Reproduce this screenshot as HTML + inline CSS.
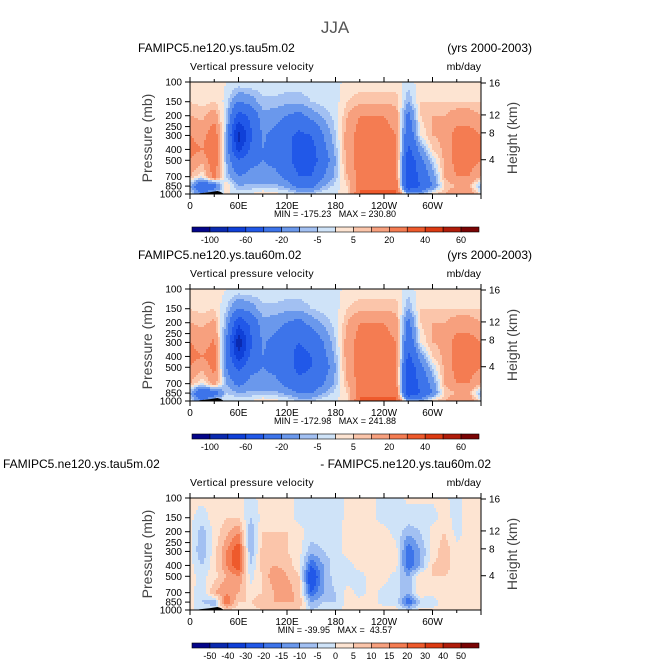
<!DOCTYPE html>
<html><head><meta charset="utf-8"><style>
html,body{margin:0;padding:0;background:#fff}
svg{display:block;font-family:"Liberation Sans",sans-serif}
</style></head><body>
<svg id="fig" width="671" height="672" viewBox="0 0 671 672" xmlns="http://www.w3.org/2000/svg">
<text x="335" y="33" font-size="17" fill="#555" text-anchor="middle">JJA</text>
</svg>
<script>
const lons=[0,15,30,45,60,75,90,105,120,135,150,165,180,195,210,225,240,255,270,285,300,315,330,345,360];
const pres=[100,150,200,300,400,500,700,850,1000];
const levelsA=[-100,-80,-60,-40,-20,-10,-5,0,5,10,20,30,40,50,60];
const labelsA=["-100","-60","-20","-5","5","20","40","60"];
const levelsB=[-50,-40,-30,-20,-15,-10,-5,0,5,10,15,20,30,40,50];
const labelsB=["-50","-40","-30","-20","-15","-10","-5","0","5","10","15","20","30","40","50"];
const colors=["#04058a","#0a2ab0","#0f40d8","#2158e8","#3d74ea","#6a98ec","#a2c0f2","#cfe3f8","#fde4d2","#fbc5aa","#f7a07e","#f47c52","#ee5a2c","#dc3a12","#b01c0a","#7a0404"];
// values per longitude (columns) from 100mb to 1000mb
const field5m=[
[3,5,10,20,25,20,10,-10,0],[3,3,8,15,20,12,0,-40,-20],[3,5,15,30,30,30,25,-30,0],[0,-2,-5,-10,-10,-10,-5,5,0],
[0,-20,-50,-90,-70,-40,-20,-10,0],[0,-15,-35,-45,-35,-25,-15,-8,0],[-2,-6,-12,-18,-20,-20,-15,-8,5],[-2,-6,-15,-25,-25,-25,-15,-8,2],
[-2,-8,-20,-35,-35,-35,-25,-12,0],[-2,-8,-25,-45,-50,-50,-40,-25,-5],[-2,-5,-15,-40,-50,-50,-40,-25,-5],[-2,-3,-8,-20,-25,-30,-20,-10,0],
[-2,-2,-3,-5,-8,-10,-8,-3,0],[2,5,10,15,15,15,10,5,2],[2,8,20,25,25,25,25,28,32],[2,8,20,25,25,25,25,28,32],
[2,8,20,25,25,25,25,28,32],[2,8,15,20,25,25,25,28,32],[-2,-10,-25,-35,-45,-60,-60,-60,-10],[2,5,5,0,-15,-25,-35,-40,-10],
[2,5,10,10,5,-5,-15,-20,5],[2,5,10,12,12,12,10,5,10],[2,5,15,25,25,25,20,10,20],[2,5,15,25,25,25,20,10,20],[3,5,10,20,25,20,10,-10,0]];
const field60m=[
[3,5,10,20,25,20,10,-10,0],[3,3,8,15,20,12,0,-40,-20],[3,5,12,22,25,25,15,-30,0],[0,-5,-10,-20,-20,-20,-10,-5,0],
[0,-20,-55,-95,-75,-45,-25,-10,0],[0,-15,-35,-45,-35,-25,-15,-8,0],[-2,-6,-12,-18,-20,-20,-15,-8,5],[-2,-6,-15,-25,-25,-25,-15,-8,2],
[-2,-8,-20,-35,-35,-35,-25,-12,0],[-2,-8,-25,-40,-45,-45,-35,-20,-5],[-2,-5,-15,-35,-40,-40,-35,-20,-5],[-2,-3,-8,-20,-25,-30,-20,-10,0],
[-2,-2,-3,-5,-8,-10,-8,-3,0],[2,5,10,15,15,15,10,5,2],[2,8,20,25,25,25,25,28,32],[2,8,20,25,28,28,25,28,32],
[2,8,20,25,25,25,25,28,32],[2,8,15,20,25,25,25,28,32],[-2,-10,-25,-35,-45,-60,-60,-60,-10],[2,5,5,0,-15,-25,-35,-40,-10],
[2,5,10,10,5,-5,-15,-20,5],[2,5,10,12,12,12,10,5,10],[2,5,15,25,25,25,20,10,20],[2,5,15,25,25,25,20,10,20],[3,5,10,20,25,20,10,-10,0]];
const fieldDiff=[
[1,1,1,1,2,2,3,2,0],[1,-2,-8,-10,-5,-2,-5,-5,0],[1,2,2,3,3,3,10,-10,0],[2,5,8,15,15,10,15,20,5],
[2,5,15,25,25,15,10,5,2],[-2,-5,-10,-10,-5,-2,2,5,2],[2,2,5,8,8,5,5,10,5],[2,2,5,8,10,15,10,10,5],
[2,2,5,5,8,10,15,10,5],[-2,-2,2,2,2,5,5,10,5],[-2,-2,-2,-8,-20,-30,-20,-10,-5],[-2,-2,-2,-5,-10,-10,-10,-5,-2],
[-2,-2,-2,-2,-2,-2,-5,-5,-2],[1,1,2,2,-2,-2,2,2,2],[1,1,1,2,2,-2,-2,2,2],[1,1,1,2,2,2,2,2,2],
[-2,-2,2,2,2,2,-2,-2,2],[-2,-2,-2,2,2,-2,-2,-2,2],[1,-2,-8,-20,-20,-10,-10,-20,-5],[1,-2,-5,-10,-10,5,5,-5,2],
[1,-2,2,2,5,5,2,-5,2],[1,2,5,8,8,5,5,5,2],[-2,-2,-2,2,2,2,2,2,2],[2,2,2,2,2,2,2,2,2],[1,1,1,1,2,2,3,2,0]];
const topoLon=[8,12,18,24,30,34,38,42];
const topoP=[1000,985,975,965,950,940,960,1000];
const presTicks=[100,150,200,250,300,400,500,700,850,1000];
const kmTicks=[16,12,8,4];
const kmPos=[1,0.715,0.555,0.315];
const lonLabels=["0","60E","120E","180","120W","60W"];
const stats=[["-175.23","230.80"],["-172.98","241.88"],["-39.95"," 43.57"]];

const NS="http://www.w3.org/2000/svg";
const svg=document.getElementById('fig');
const X0=190,W=291,H=112;
function xS(l){return X0+l/360*W;}
function yS(p,top){return top+(Math.log10(p)-2)*H;}
function mk(tag,attrs,parent){const e=document.createElementNS(NS,tag);for(const k in attrs)e.setAttribute(k,attrs[k]);(parent||svg).appendChild(e);return e;}
function colorFor(v,lev){let i=0;while(i<lev.length&&v>=lev[i])i++;return colors[i];}
function sample(f,lon,p){
  let i=Math.min(Math.floor(lon/15),lons.length-2);let tx=(lon-lons[i])/15;
  const lp=Math.log10(p);let j=0;while(j<pres.length-2&&Math.log10(pres[j+1])<lp)j++;
  const a=Math.log10(pres[j]),b=Math.log10(pres[j+1]);let ty=Math.max(0,Math.min(1,(lp-a)/(b-a)));
  const v00=f[i][j],v10=f[i+1][j],v01=f[i][j+1],v11=f[i+1][j+1];
  return (v00*(1-tx)+v10*tx)*(1-ty)+(v01*(1-tx)+v11*tx)*ty;
}
function txt(x,y,s,size,anchor,extra,name){const t=mk('text',Object.assign({x:x,y:y,'font-size':size,'text-anchor':anchor||'start',fill:'#000'},extra||{}));t.textContent=s;return t;}

function panel(top,f,lev,labs,st,left,right,leftX,rightX,idx){
  const g=mk('g',{});
  
  
  txt(leftX,top-30,left,12,'start',{},'panel-left-title');
  txt(rightX,top-30,right,12,'end',{},'panel-right-title');
  txt(X0,top-12,'Vertical pressure velocity',10.5,'start',{'letter-spacing':'0.3'},'variable-label');
  txt(X0+W,top-12,'mb/day',10.5,'end',{},'units-label');
  const cg=mk('g',{},g);
  
  
  const step=2;
  const nx=Math.ceil(W/step);
  for(let py=0;py<H;py+=step){
    const p=Math.pow(10,2+(py+step/2)/H);
    let runStart=0,runCol=null;
    for(let k=0;k<=nx;k++){
      const px=k*step;
      let col=null;
      if(k<nx){const lon=(px+step/2)/W*360;col=colorFor(sample(f,Math.min(lon,359.9),Math.min(p,1000)),lev);}
      if(col!==runCol){
        if(runCol!==null){const r=mk('rect',{x:X0+runStart,y:top+py,width:Math.min(px,W)-runStart+0.3,height:Math.min(step,H-py)+0.3,fill:runCol},cg);}
        runStart=px;runCol=col;
      }
    }
  }
  let d='M'+xS(topoLon[0])+','+yS(1000,top);
  topoLon.forEach((l,k)=>{d+=' L'+xS(l)+','+yS(topoP[k],top);});
  const tp=mk('path',{d:d+'Z',fill:'#000'},g);
  
  
  const tp2=mk('rect',{x:xS(283),y:yS(985,top),width:xS(300)-xS(283),height:yS(1000,top)-yS(985,top),fill:'#000'},g);
  
  
  const fr=mk('rect',{x:X0,y:top,width:W,height:H,fill:'none',stroke:'#000','stroke-width':1},g);
  
  
  for(let l=0;l<=360;l+=30){const len=l%60===0?5:3;
    mk('line',{x1:xS(l),x2:xS(l),y1:top,y2:top-len,stroke:'#000'},g);
    mk('line',{x1:xS(l),x2:xS(l),y1:top+H,y2:top+H+len,stroke:'#000'},g);}
  lonLabels.forEach((s,k)=>txt(xS(k*60),top+H+15,s,10,'middle',{},'x-tick-label'));
  presTicks.forEach(p=>{const y=yS(p,top);mk('line',{x1:X0,x2:X0-5,y1:y,y2:y,stroke:'#000'},g);
    txt(X0-8,y+3.5,String(p),10,'end',{},'pressure-tick-label');});
  kmTicks.forEach((k,i)=>{const y=top+H-kmPos[i]*H+1;mk('line',{x1:X0+W,x2:X0+W+5,y1:y,y2:y,stroke:'#000'},g);
    txt(X0+W+8,y+3.5,String(k),10,'start',{},'height-tick-label');});
  txt(0,0,'Pressure (mb)',14,'middle',{transform:'translate(152,'+(top+H/2)+') rotate(-90)',fill:'#444'},'y-axis-title');
  txt(0,0,'Height (km)',14,'middle',{transform:'translate(517,'+(top+H/2)+') rotate(-90)',fill:'#444'},'y2-axis-title');
  txt(335,top+H+23,'MIN = '+st[0]+'   MAX = '+st[1],9,'middle',{style:'white-space:pre'},'min-max-label');
  const cb=mk('g',{},g);
  
  
  const cbX=192,cbW=287,cbY=top+H+33,bw=cbW/colors.length;
  colors.forEach((c,k)=>{const r=mk('rect',{x:cbX+k*bw,y:cbY,width:bw,height:5,fill:c,stroke:'#000','stroke-width':0.6},cb);});
  const every=labs.length<10?2:1;
  labs.forEach((s,k)=>{const b=every===2?2*k+1:k+1;txt(cbX+b*bw,cbY+16,s,9,'middle',{},'colorbar-label');});
}
panel(82,field5m,levelsA,labelsA,stats[0],'FAMIPC5.ne120.ys.tau5m.02','(yrs 2000-2003)',138,532,1);
panel(289,field60m,levelsA,labelsA,stats[1],'FAMIPC5.ne120.ys.tau60m.02','(yrs 2000-2003)',138,532,2);
panel(498,fieldDiff,levelsB,labelsB,stats[2],'FAMIPC5.ne120.ys.tau5m.02','- FAMIPC5.ne120.ys.tau60m.02',3,491,3);
</script>
</body></html>
